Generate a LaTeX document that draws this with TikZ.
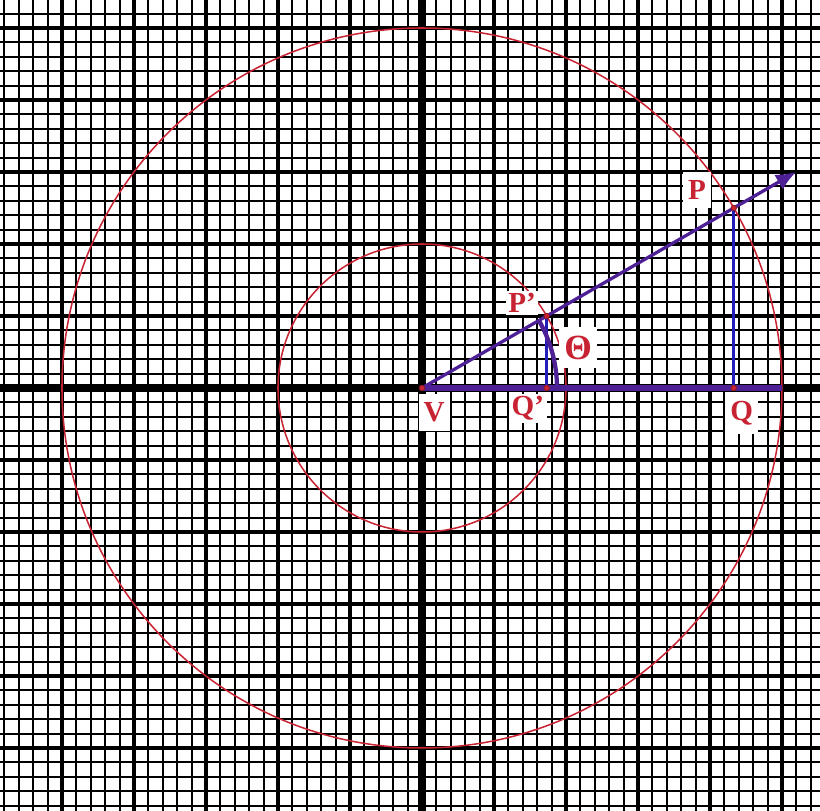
\documentclass[tikz,border=0pt]{standalone}
\usepackage{amsmath}
\usepackage{xcolor}
\usepackage{fontspec}
\setmainfont{Liberation Serif}
\usepackage{tikz}
\usetikzlibrary{arrows.meta}

\definecolor{circred}{RGB}{200,35,50}
\definecolor{rayviolet}{RGB}{78,32,150}
\definecolor{legblue}{RGB}{35,30,185}

\tikzset{
  lbl/.style={fill=white,text=circred,inner xsep=2pt,inner ysep=3.5pt,font=\fontsize{11.5}{13}\selectfont\bfseries},
  dot/.style={circle,fill=circred,draw=circred!70!black,line width=0.3pt,inner sep=0pt,minimum size=2.2pt}
}

\begin{document}
\begin{tikzpicture}
\useasboundingbox (-5.861,-5.875) rectangle (5.528,5.389);
\clip (-5.861,-5.875) rectangle (5.528,5.389);
% graph paper
\draw[step=0.2cm,black,line width=0.75pt] (-6,-6) grid (6,6);
\draw[step=1cm,black,line width=1.6pt] (-6,-6) grid (6,6);
\draw[line width=2.8pt] (-6,0) -- (6,0);
\draw[line width=2.8pt] (0,-6) -- (0,6);
% circles
\draw[circred,line width=0.6pt] (0,0) circle (2);
\draw[circred,line width=0.6pt] (0,0) circle (5);
% points
\coordinate (V) at (0,0);
\coordinate (P) at (30:5);
\coordinate (Pp) at (30:2);
\coordinate (Q) at (P |- V);
\coordinate (Qp) at (Pp |- V);
\coordinate (tip) at (30:6);
\coordinate (E) at (5,0);
% ray, legs and angle
\draw[rayviolet,line width=2.2pt] (V) -- (E);
\draw[rayviolet,line width=1.3pt,-{Latex[length=2.8mm,width=2.4mm]}] (V) -- (tip);
\draw[legblue,line width=1.2pt] (Pp) -- (Qp);
\draw[legblue,line width=1.2pt] (P) -- (Q);
\draw[rayviolet,line width=1.7pt] (0:1.875) arc (0:30:1.875);
\foreach \p in {V,Pp,Qp,P,Q}
  \node[dot] (d\p) at (\p) {};
% labels
\node[lbl] (lV) at (0.17,-0.34) {V};
\node[lbl,inner sep=1pt] (lPp) at (1.39,1.18) {P'};
\node[lbl,inner sep=1pt] (lQp) at (1.47,-0.28) {Q'};
\node[lbl,font=\fontsize{14}{16}\selectfont\bfseries] (lth) at (2.17,0.56) {Θ};
\node[lbl] (lP) at (3.82,2.75) {P};
\node[lbl] (lQ) at (4.44,-0.35) {Q};
\end{tikzpicture}
\end{document}
